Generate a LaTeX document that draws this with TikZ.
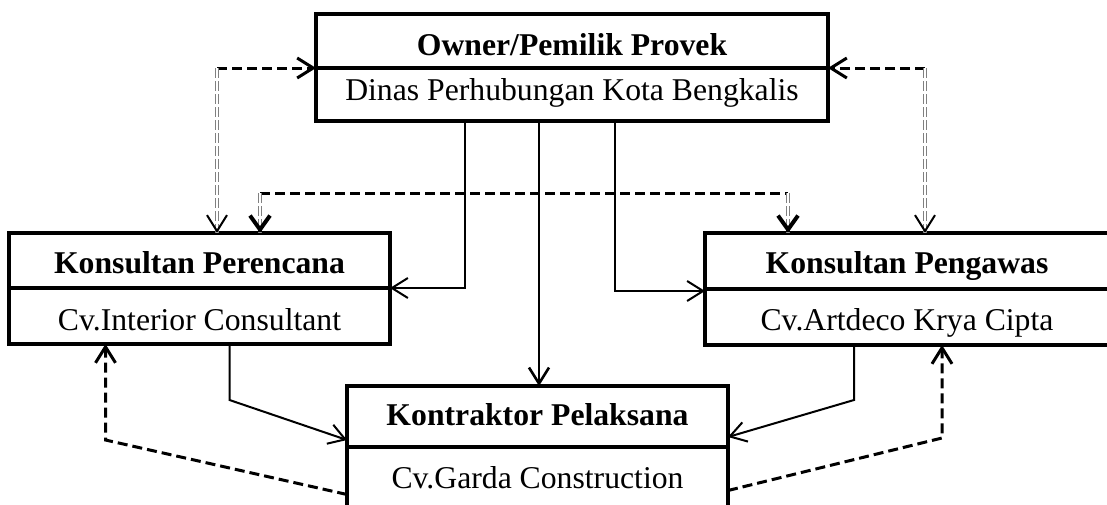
\documentclass[tikz,border=0pt]{standalone}
\usepackage{fontspec}
\setmainfont{Liberation Serif}
\usetikzlibrary{positioning,arrows.meta}
\begin{document}
\begin{tikzpicture}[x=0.5pt,y=-0.5pt,
    head/.style={draw,line width=1.6pt,inner sep=0pt,outer sep=0pt,text depth=3.5pt,
        font=\fontsize{15.85}{19}\selectfont\bfseries},
    body/.style={draw,line width=1.6pt,inner sep=0pt,outer sep=0pt,text depth=3.5pt,
        font=\fontsize{15.85}{19}\selectfont},
    divider/.style={line width=2.3pt},
    link/.style={line width=1pt,-{Straight Barb[length=8pt,width=10pt]}},
    dashlink/.style={line width=1.5pt,dash pattern=on 5pt off 2.5pt},
    dashdouble/.style={draw=gray,double=white,double distance=0.8pt,
        line width=0.6pt,dash pattern=on 5pt off 1.5pt},
    tip/.style={line width=1pt,-{Straight Barb[length=8pt,width=10pt]}},
    bigtip/.style={line width=2pt,-{Straight Barb[length=7pt,width=10pt]}}]
    \clip (0,0) rectangle (1107,504);

    % boxes
    \node[head,minimum width=256pt,minimum height=27pt,text height=17.5pt,anchor=north west] (owner) at (316,14) {Owner/Pemilik Provek};
    \node[body,minimum width=256pt,minimum height=26.5pt,text height=9pt,below=0pt of owner] (ownersub) {Dinas Perhubungan Kota Bengkalis};
    \node[head,minimum width=190.5pt,minimum height=27.5pt,text height=16pt,anchor=north west] (perencana) at (9,233) {Konsultan Perencana};
    \node[body,minimum width=190.5pt,minimum height=28pt,text height=17.5pt,below=0pt of perencana] (perencanasub) {Cv.Interior Consultant};
    \node[head,minimum width=202pt,minimum height=28pt,text height=15.5pt,anchor=north west] (pengawas) at (705,233) {Konsultan Pengawas};
    \node[body,minimum width=202pt,minimum height=28pt,text height=16.5pt,below=0pt of pengawas] (pengawassub) {Cv.Artdeco Krya Cipta};
    \node[head,minimum width=190.5pt,minimum height=30.5pt,text height=12pt,anchor=north west] (kontraktor) at (347,386) {Kontraktor Pelaksana};
    \node[body,minimum width=190.5pt,minimum height=31.5pt,text height=13pt,below=0pt of kontraktor] (kontraktorsub) {Cv.Garda Construction};
    \foreach \n in {owner,perencana,pengawas,kontraktor}
        \draw[divider] (\n.south west) -- (\n.south east);

    % instruction lines
    \draw[link] (ownersub.south) ++(-107,0) |- (perencana.south east);
    \draw[link,line width=1.3pt] (ownersub.south) ++(-33,0) coordinate (down) -- (down |- kontraktor.north);
    \draw[link] (ownersub.south) ++(43,0) |- ([yshift=-1pt]pengawas.south west);
    \draw[link] (perencanasub.south) ++(30,0) -- ++(0,56) -- ([yshift=3.5pt]kontraktor.south west);
    \draw[link] (pengawassub.south) ++(-53,0) -- ++(0,55) -- ([yshift=5pt]kontraktor.south east);

    % coordination lines
    \draw[dashlink,-{Straight Barb[length=8pt,width=10pt]}] ([yshift=-8pt]kontraktorsub.west)
        -- ([xshift=-47pt,yshift=-48pt]perencanasub.south) -- ([xshift=-47pt]perencanasub.south);
    \draw[dashlink,-{Straight Barb[length=8pt,width=10pt]}] ([yshift=-6pt]kontraktorsub.east)
        -- ([xshift=17.5pt,yshift=-46.5pt]pengawassub.south) -- ([xshift=17.5pt]pengawassub.south);

    \coordinate (tl) at ([xshift=8.75pt]perencana.north);
    \coordinate (tr) at ([xshift=9pt]pengawas.north);
    \coordinate (ml) at ([xshift=30.25pt]perencana.north);
    \coordinate (mr) at ([xshift=-59.5pt]pengawas.north);
    \draw[dashlink,-{Straight Barb[length=8pt,width=10pt]}] (tl |- owner.south) -- (owner.south west);
    \draw[dashlink,-{Straight Barb[length=8pt,width=10pt]}] (tr |- owner.south) -- (owner.south east);
    \draw[dashdouble] (tl |- owner.south) -- (tl);
    \draw[dashdouble] (tr |- owner.south) -- (tr);
    \draw[tip] ([yshift=1pt]tl) -- (tl);
    \draw[tip] ([yshift=1pt]tr) -- (tr);
    \draw[dashlink] ([yshift=20pt]ml) -- ([yshift=20pt]mr);
    \draw[dashdouble] ([yshift=20pt]ml) -- (ml);
    \draw[dashdouble] ([yshift=20pt]mr) -- (mr);
    \draw[bigtip] ([yshift=1pt]ml) -- (ml);
    \draw[bigtip] ([yshift=1pt]mr) -- (mr);
\end{tikzpicture}
\end{document}
